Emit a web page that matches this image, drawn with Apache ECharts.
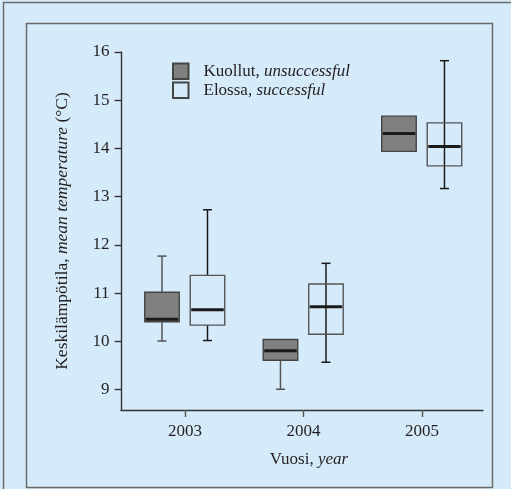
<!DOCTYPE html>
<html>
<head>
<meta charset="utf-8">
<script src="https://cdn.jsdelivr.net/npm/echarts@6/dist/echarts.min.js"></script>
<style>
  html, body { margin: 0; padding: 0; background: #d6ebfa; }
  #chart { width: 511px; height: 489px; }
</style>
</head>
<body>
<div id="chart"></div>
<script>
// years on the x axis
var years = [2003, 2004, 2005];
// [min, Q1, median, Q3, max] per year
var kuollut = [
  [10.01, 10.41, 10.46, 11.02, 11.77],
  [9.01, 9.61, 9.81, 10.04, 10.04],
  [13.94, 13.94, 14.31, 14.67, 14.67]
];
var elossa = [
  [10.02, 10.34, 10.66, 11.37, 12.73],
  [9.57, 10.15, 10.72, 11.19, 11.62],
  [13.17, 13.64, 14.04, 14.53, 15.82]
];
var yTicks = [9, 10, 11, 12, 13, 14, 15, 16];
var seriesNames = ['Kuollut, unsuccessful', 'Elossa, successful'];

var FONT = 'Liberation Serif';
var INK = '#231f20';

function toRows(stats) {
  return years.map(function (y, i) { return [y].concat(stats[i]); });
}

// draws one box per data item, shifted sideways by `shift` px from the year tick
function boxRenderer(shift, boxFill, boxStroke, whiskerColor, lineThrough) {
  return function (params, api) {
    var x = api.value(0);
    var lo = api.coord([x, api.value(1)]);
    var q1 = api.coord([x, api.value(2)]);
    var md = api.coord([x, api.value(3)]);
    var q3 = api.coord([x, api.value(4)]);
    var hi = api.coord([x, api.value(5)]);
    var cx = lo[0] + shift;
    var hw = 17.25, cap = 4.5;
    var wl = { stroke: whiskerColor, lineWidth: 1.5 };
    var kids = [];
    if (lineThrough[params.dataIndex]) {
      kids.push({ type: 'line', shape: { x1: cx, y1: hi[1], x2: cx, y2: lo[1] }, style: wl });
    } else {
      kids.push({ type: 'line', shape: { x1: cx, y1: hi[1], x2: cx, y2: q3[1] }, style: wl });
      kids.push({ type: 'line', shape: { x1: cx, y1: q1[1], x2: cx, y2: lo[1] }, style: wl });
    }
    if (hi[1] < q3[1] - 0.5) {
      kids.push({ type: 'line', shape: { x1: cx - cap, y1: hi[1], x2: cx + cap, y2: hi[1] }, style: wl });
    }
    if (lo[1] > q1[1] + 0.5) {
      kids.push({ type: 'line', shape: { x1: cx - cap, y1: lo[1], x2: cx + cap, y2: lo[1] }, style: wl });
    }
    kids.push({
      type: 'rect',
      shape: { x: cx - hw, y: q3[1], width: hw * 2, height: q1[1] - q3[1] },
      style: { fill: boxFill, stroke: boxStroke, lineWidth: 1.4 }
    });
    kids.push({
      type: 'line',
      shape: { x1: cx - hw + 1, y1: md[1], x2: cx + hw - 1, y2: md[1] },
      style: { stroke: '#1a1a1a', lineWidth: 3 }
    });
    return { type: 'group', children: kids };
  };
}

var chart = echarts.init(document.getElementById('chart'), null, { renderer: 'canvas' });

var option = {
  backgroundColor: '#d6ebfa',
  animation: false,
  textStyle: { fontFamily: FONT, color: INK },
  graphic: [
    {
      type: 'polyline', z: -10,
      shape: { points: [[3.5, 489], [3.5, 2.5], [511, 2.5]] },
      style: { stroke: '#6b6b6b', lineWidth: 1.5, fill: null }
    },
    {
      type: 'rect', z: -10,
      shape: { x: 26.5, y: 23.5, width: 466, height: 464 },
      style: { stroke: '#6b6b6b', lineWidth: 1.5, fill: null }
    }
  ],
  grid: { left: 121, right: 28, top: 52, bottom: 79, outerBoundsMode: 'none' },
  legend: {
    orient: 'vertical',
    left: 172,
    top: 62.5,
    padding: 0,
    icon: 'rect',
    itemWidth: 15.5,
    itemHeight: 15.5,
    itemGap: 1.5,
    data: seriesNames,
    formatter: function (name) {
      var p = name.split(', ');
      return '{n|' + p[0] + ', }{i|' + p[1] + '}';
    },
    textStyle: {
      fontFamily: FONT, fontSize: 17, lineHeight: 15, color: INK, padding: [0, 0, 0, 10],
      rich: {
        n: { fontFamily: FONT, fontSize: 17, lineHeight: 15, color: INK },
        i: { fontFamily: FONT, fontSize: 17, lineHeight: 15, color: INK, fontStyle: 'italic' }
      }
    }
  },
  xAxis: {
    type: 'value',
    min: 2002.46,
    max: 2005.515,
    name: '{n|Vuosi, }{i|year}',
    nameLocation: 'middle',
    nameGap: 41,
    nameTextStyle: {
      padding: [0, 0, 0, 14],
      rich: {
        n: { fontFamily: FONT, fontSize: 17, color: INK },
        i: { fontFamily: FONT, fontSize: 17, color: INK, fontStyle: 'italic' }
      }
    },
    axisLine: { onZero: false, lineStyle: { color: '#333', width: 1.4 } },
    axisTick: { customValues: years, length: 7, lineStyle: { color: '#555', width: 1.4 } },
    axisLabel: {
      customValues: years, margin: 13, fontFamily: FONT, fontSize: 17, color: INK,
      formatter: function (v) { return String(v); }
    },
    splitLine: { show: false }
  },
  yAxis: {
    type: 'value',
    min: 8.58,
    max: 16,
    name: '{n|Keskilämpötila, }{i|mean temperature}{n| (°C)}',
    nameLocation: 'middle',
    nameGap: 50,
    nameTextStyle: {
      rich: {
        n: { fontFamily: FONT, fontSize: 17.5, color: INK },
        i: { fontFamily: FONT, fontSize: 17.5, color: INK, fontStyle: 'italic' }
      }
    },
    axisLine: { show: true, onZero: false, lineStyle: { color: '#333', width: 1.4 } },
    axisTick: { show: true, customValues: yTicks, length: 6.5, lineStyle: { color: '#333', width: 1.4 } },
    axisLabel: {
      customValues: yTicks, margin: 11.5, fontFamily: FONT, fontSize: 17, color: INK
    },
    splitLine: { show: false }
  },
  series: [
    {
      name: seriesNames[0],
      type: 'custom',
      itemStyle: { color: '#808080', borderColor: '#444', borderWidth: 1.2 },
      renderItem: boxRenderer(-23, '#808080', '#444', '#555', [false, false, false]),
      encode: { x: 0, y: [1, 2, 3, 4, 5] },
      data: toRows(kuollut)
    },
    {
      name: seriesNames[1],
      type: 'custom',
      itemStyle: { color: 'rgba(0,0,0,0)', borderColor: '#444', borderWidth: 1.2 },
      renderItem: boxRenderer(22.5, 'rgba(0,0,0,0)', '#555', '#1a1a1a', [false, true, true]),
      encode: { x: 0, y: [1, 2, 3, 4, 5] },
      data: toRows(elossa)
    }
  ]
};

chart.setOption(option);
</script>
</body>
</html>
